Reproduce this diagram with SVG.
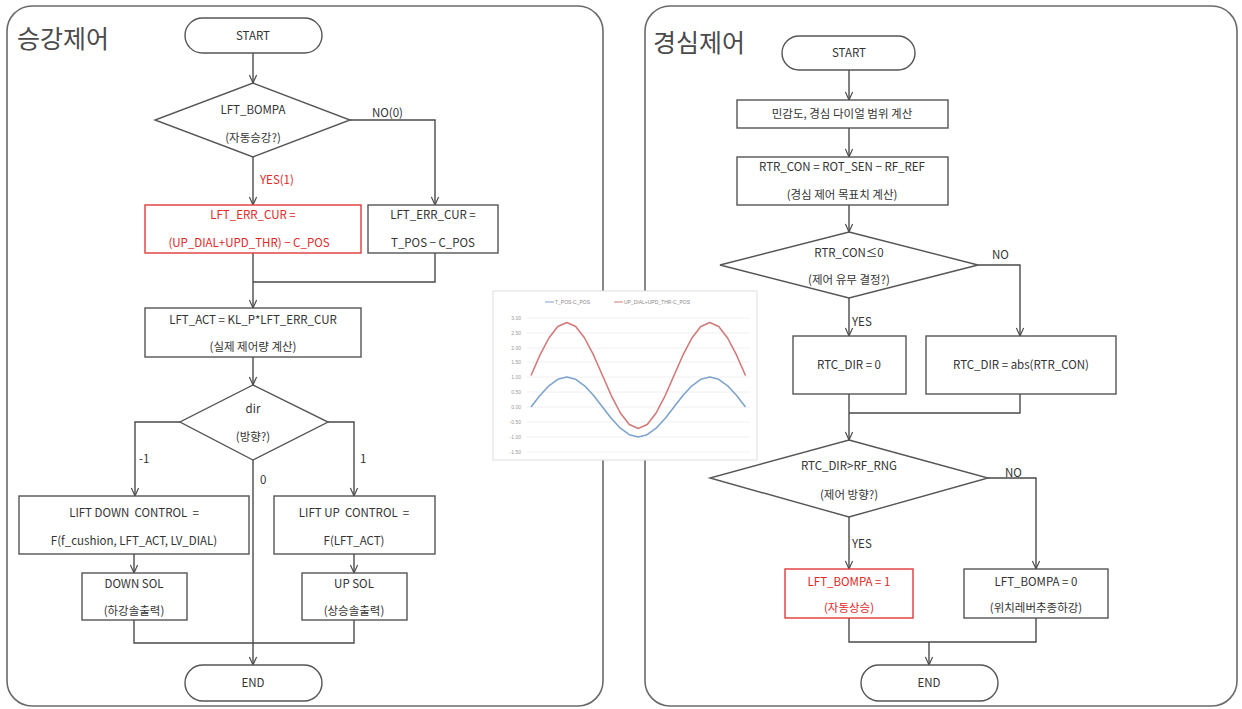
<svg xmlns="http://www.w3.org/2000/svg" width="1242" height="709" viewBox="0 0 1242 709">
  <style>
    .panel { fill: #ffffff; stroke: #6a6a6a; stroke-width: 1.6; }
    .title { font-family: "Noto Sans CJK KR", "Noto Sans", sans-serif; font-size: 25px; font-weight: 400; fill: #4a4a4a; }
    .box { fill: #ffffff; stroke: #555; stroke-width: 1.4; }
    .rbox { fill: #ffffff; stroke: #e03a3a; stroke-width: 1.4; }
    .t { font-family: "Noto Sans CJK KR", "Noto Sans", sans-serif; font-size: 11.5px; fill: #333; text-anchor: middle; white-space: pre; }
    .tl { font-family: "Noto Sans CJK KR", "Noto Sans", sans-serif; font-size: 11.5px; fill: #333; }
    .red { fill: #e02828; }
    .conn path { fill: none; stroke: #4a4a4a; stroke-width: 1.4; }
    .grid { stroke: #ececec; stroke-width: 0.8; }
    .ax { font-family: "Liberation Sans", sans-serif; font-size: 5px; fill: #999; text-anchor: end; }
    .lg { font-family: "Liberation Sans", sans-serif; font-size: 5px; fill: #8a8a8a; }
  </style>
  <defs>
    <marker id="arr" viewBox="0 0 10 10" refX="10" refY="5" markerWidth="9" markerHeight="9" markerUnits="userSpaceOnUse" orient="auto">
      <path d="M1,1 L10,5 L1,9" fill="none" stroke="#4a4a4a" stroke-width="1.3"/>
    </marker>
  </defs>

  <rect width="1242" height="709" fill="#ffffff"/>

  <!-- panels -->
  <rect id="panel-lift" class="panel" x="7" y="6" width="596" height="700" rx="25"/>
  <rect id="panel-steer" class="panel" x="645" y="6" width="592" height="700" rx="25"/>
  <text class="title" x="17" y="48">승강제어</text>
  <text class="title" x="653" y="52">경심제어</text>

  <!-- connectors -->
  <g id="connectors" class="conn">
    <path d="M253,52 V83" marker-end="url(#arr)"/>
    <path d="M350,120 H435 V205" marker-end="url(#arr)"/>
    <path d="M253,157 V205" marker-end="url(#arr)"/>
    <path d="M435,253 V282 H253"/>
    <path d="M253,253 V308" marker-end="url(#arr)"/>
    <path d="M253,357 V385" marker-end="url(#arr)"/>
    <path d="M180,422 H135 V496" marker-end="url(#arr)"/>
    <path d="M328,422 H354 V496" marker-end="url(#arr)"/>
    <path d="M253,460 V665" marker-end="url(#arr)"/>
    <path d="M134,554 V573" marker-end="url(#arr)"/>
    <path d="M354,554 V573" marker-end="url(#arr)"/>
    <path d="M134,620 V643 H354 V620"/>

    <path d="M849,70 V100" marker-end="url(#arr)"/>
    <path d="M849,128 V157" marker-end="url(#arr)"/>
    <path d="M849,205 V232" marker-end="url(#arr)"/>
    <path d="M978,265 H1020 V336" marker-end="url(#arr)"/>
    <path d="M849,298 V336" marker-end="url(#arr)"/>
    <path d="M1020,394 V413 H849"/>
    <path d="M849,394 V440" marker-end="url(#arr)"/>
    <path d="M988,478 H1036 V569" marker-end="url(#arr)"/>
    <path d="M849,517 V569" marker-end="url(#arr)"/>
    <path d="M849,618 V642 H1036 V618"/>
    <path d="M929,642 V665" marker-end="url(#arr)"/>
  </g>

  <!-- connector labels -->
  <g id="labels">
    <text class="tl" x="372" y="117">NO(0)</text>
    <text class="tl red" x="260" y="184">YES(1)</text>
    <text class="tl" x="139" y="463">-1</text>
    <text class="tl" x="360" y="463">1</text>
    <text class="tl" x="260" y="484">0</text>
    <text class="tl" x="992" y="259">NO</text>
    <text class="tl" x="852" y="326">YES</text>
    <text class="tl" x="1005" y="477">NO</text>
    <text class="tl" x="852" y="548">YES</text>
  </g>

  <!-- lift control flow -->
  <g id="l-start">
    <rect class="box" x="185" y="18" width="137" height="35" rx="17.5"/>
    <text class="t" x="253" y="40">START</text>
  </g>
  <g id="l-auto">
    <polygon class="box" points="253,83 350,120 253,157 155,120"/>
    <text class="t" x="253" y="114">LFT_BOMPA</text>
    <text class="t" x="253" y="142">(자동승강?)</text>
  </g>
  <g id="l-err-auto">
    <rect class="rbox" x="145" y="205" width="216" height="48"/>
    <text class="t red" x="253" y="219">LFT_ERR_CUR =</text>
    <text class="t red" x="249" y="247">(UP_DIAL+UPD_THR) − C_POS</text>
  </g>
  <g id="l-err-manual">
    <rect class="box" x="368" y="205" width="130" height="48"/>
    <text class="t" x="433" y="219">LFT_ERR_CUR =</text>
    <text class="t" x="433" y="247">T_POS − C_POS</text>
  </g>
  <g id="l-act">
    <rect class="box" x="145" y="308" width="216" height="49"/>
    <text class="t" x="253" y="324">LFT_ACT = KL_P*LFT_ERR_CUR</text>
    <text class="t" x="253" y="351">(실제 제어량 계산)</text>
  </g>
  <g id="l-dir">
    <polygon class="box" points="253,385 328,422 253,460 180,422"/>
    <text class="t" x="253" y="413">dir</text>
    <text class="t" x="253" y="441">(방향?)</text>
  </g>
  <g id="l-down">
    <rect class="box" x="19" y="496" width="230" height="58"/>
    <text class="t" x="134" y="517" xml:space="preserve">LIFT DOWN  CONTROL  =</text>
    <text class="t" x="134" y="545">F(f_cushion, LFT_ACT, LV_DIAL)</text>
  </g>
  <g id="l-up">
    <rect class="box" x="274" y="496" width="161" height="58"/>
    <text class="t" x="354" y="517" xml:space="preserve">LIFT UP  CONTROL  =</text>
    <text class="t" x="354" y="545">F(LFT_ACT)</text>
  </g>
  <g id="l-down-sol">
    <rect class="box" x="82" y="573" width="105" height="47"/>
    <text class="t" x="134" y="588">DOWN SOL</text>
    <text class="t" x="134" y="615">(하강솔출력)</text>
  </g>
  <g id="l-up-sol">
    <rect class="box" x="302" y="573" width="105" height="47"/>
    <text class="t" x="354" y="588">UP SOL</text>
    <text class="t" x="354" y="615">(상승솔출력)</text>
  </g>
  <g id="l-end">
    <rect class="box" x="185" y="665" width="137" height="36" rx="18"/>
    <text class="t" x="253" y="687">END</text>
  </g>

  <!-- steering-depth control flow -->
  <g id="r-start">
    <rect class="box" x="782" y="36" width="133" height="34" rx="17"/>
    <text class="t" x="849" y="57">START</text>
  </g>
  <g id="r-range">
    <rect class="box" x="737" y="100" width="211" height="28"/>
    <text class="t" x="842" y="118">민감도, 경심 다이얼 범위 계산</text>
  </g>
  <g id="r-target">
    <rect class="box" x="737" y="157" width="211" height="48"/>
    <text class="t" x="842" y="171">RTR_CON = ROT_SEN − RF_REF</text>
    <text class="t" x="842" y="199">(경심 제어 목표치 계산)</text>
  </g>
  <g id="r-check">
    <polygon class="box" points="849,232 978,265 849,298 720,265"/>
    <text class="t" x="849" y="257">RTR_CON≤0</text>
    <text class="t" x="849" y="284">(제어 유무 결정?)</text>
  </g>
  <g id="r-zero">
    <rect class="box" x="793" y="336" width="113" height="58"/>
    <text class="t" x="849" y="369">RTC_DIR = 0</text>
  </g>
  <g id="r-abs">
    <rect class="box" x="926" y="336" width="190" height="58"/>
    <text class="t" x="1021" y="369">RTC_DIR = abs(RTR_CON)</text>
  </g>
  <g id="r-dir">
    <polygon class="box" points="849,440 988,478 849,517 710,478"/>
    <text class="t" x="849" y="470">RTC_DIR&gt;RF_RNG</text>
    <text class="t" x="849" y="499">(제어 방향?)</text>
  </g>
  <g id="r-up">
    <rect class="rbox" x="785" y="569" width="128" height="49"/>
    <text class="t red" x="849" y="586">LFT_BOMPA = 1</text>
    <text class="t red" x="849" y="612">(자동상승)</text>
  </g>
  <g id="r-follow">
    <rect class="box" x="964" y="569" width="144" height="49"/>
    <text class="t" x="1036" y="586">LFT_BOMPA = 0</text>
    <text class="t" x="1036" y="612">(위치레버추종하강)</text>
  </g>
  <g id="r-end">
    <rect class="box" x="861" y="665" width="137" height="36" rx="18"/>
    <text class="t" x="929" y="687">END</text>
  </g>

  <!-- position error chart -->
  <g id="chart">
    <rect x="493" y="291" width="264" height="169" fill="#ffffff" stroke="#dedede" stroke-width="1"/>
    <g class="grid">
      <line x1="527" y1="318" x2="750" y2="318"/>
      <line x1="527" y1="333" x2="750" y2="333"/>
      <line x1="527" y1="348" x2="750" y2="348"/>
      <line x1="527" y1="362" x2="750" y2="362"/>
      <line x1="527" y1="377" x2="750" y2="377"/>
      <line x1="527" y1="392" x2="750" y2="392"/>
      <line x1="527" y1="407" x2="750" y2="407"/>
      <line x1="527" y1="422" x2="750" y2="422"/>
      <line x1="527" y1="437" x2="750" y2="437"/>
      <line x1="527" y1="452" x2="750" y2="452"/>
    </g>
    <text class="ax" x="521" y="320">3.00</text>
    <text class="ax" x="521" y="335">2.50</text>
    <text class="ax" x="521" y="350">2.00</text>
    <text class="ax" x="521" y="364">1.50</text>
    <text class="ax" x="521" y="379">1.00</text>
    <text class="ax" x="521" y="394">0.50</text>
    <text class="ax" x="521" y="409">0.00</text>
    <text class="ax" x="521" y="424">-0.50</text>
    <text class="ax" x="521" y="439">-1.00</text>
    <text class="ax" x="521" y="454">-1.50</text>
    <line x1="545" y1="302" x2="554" y2="302" stroke="#7ea3cf" stroke-width="1"/>
    <text class="lg" x="555" y="304">T_POS-C_POS</text>
    <line x1="614" y1="302" x2="623" y2="302" stroke="#d27a7a" stroke-width="1"/>
    <text class="lg" x="624" y="304">UP_DIAL+UPD_THR-C_POS</text>
    <polyline fill="none" stroke="#d27a7a" stroke-width="1.6" stroke-linejoin="round"
      points="531,375.5 539.9,355.2 548.9,338 557.8,326.5 566.8,322.5 575.7,326.5 584.6,338 593.6,355.2 602.5,375.5 611.4,395.8 620.4,413 629.3,424.5 638.3,428.5 647.2,424.5 656.1,413 665.1,395.8 674,375.5 682.9,355.2 691.9,338 700.8,326.5 709.8,322.5 718.7,326.5 727.6,338 736.6,355.2 745.5,375.5"/>
    <polyline fill="none" stroke="#7ea3cf" stroke-width="1.6" stroke-linejoin="round"
      points="531,407 539.9,395.5 548.9,385.8 557.8,379.3 566.8,377 575.7,379.3 584.6,385.8 593.6,395.5 602.5,407 611.4,418.5 620.4,428.2 629.3,434.7 638.3,437 647.2,434.7 656.1,428.2 665.1,418.5 674,407 682.9,395.5 691.9,385.8 700.8,379.3 709.8,377 718.7,379.3 727.6,385.8 736.6,395.5 745.5,407"/>
  </g>
</svg>
